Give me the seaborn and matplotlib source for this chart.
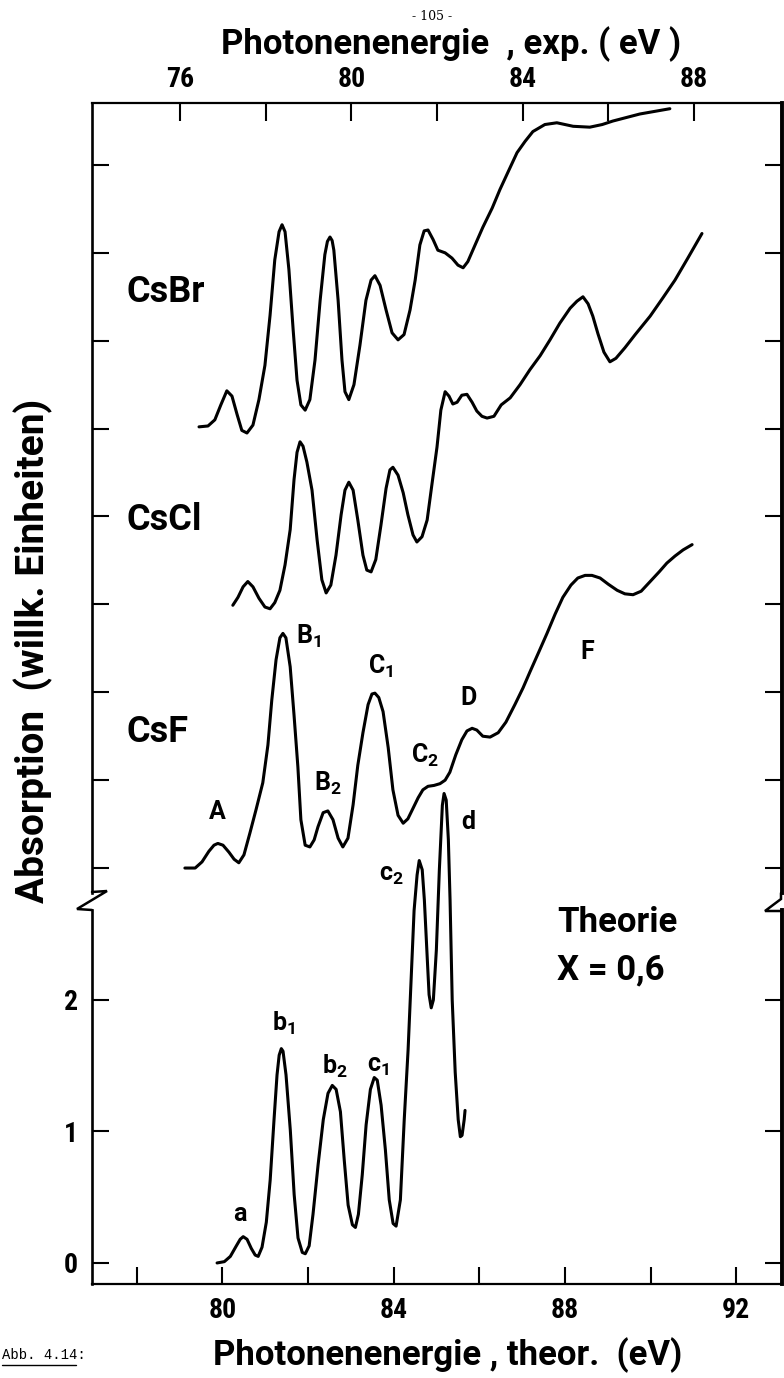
import matplotlib
matplotlib.use("Agg")
import matplotlib.pyplot as plt
from matplotlib.lines import Line2D
import seaborn as sns

# ---------------------------------------------------------------- spectra
# Measured absorption (experimental photon energy in eV, arbitrary units,
# curves stacked with vertical offsets)
csbr_energy = [76.44, 76.65, 76.81, 76.95, 77.09, 77.21, 77.33, 77.44, 77.56, 77.70,
               77.84, 77.98, 78.10, 78.21, 78.31, 78.38, 78.45, 78.54, 78.64, 78.73,
               78.82, 78.92, 79.03, 79.15, 79.27, 79.38, 79.44, 79.50, 79.55, 79.59,
               79.69, 79.78, 79.85, 79.94, 80.06, 80.20, 80.34, 80.46, 80.55, 80.67,
               80.81, 80.95, 81.09, 81.23, 81.37, 81.49, 81.60, 81.70, 81.79, 81.91,
               82.02, 82.19, 82.35, 82.49, 82.61, 82.72, 82.89, 83.07, 83.29, 83.47,
               83.66, 83.87, 84.06, 84.24, 84.52, 84.80, 85.18, 85.57, 85.86, 86.11,
               86.74, 87.44]
csbr_absorption = [5.02, 5.03, 5.10, 5.27, 5.43, 5.37, 5.16, 4.98, 4.95, 5.04,
                   5.33, 5.72, 6.29, 6.92, 7.24, 7.32, 7.24, 6.81, 6.12, 5.55,
                   5.27, 5.21, 5.33, 5.78, 6.46, 6.98, 7.13, 7.18, 7.14, 7.03,
                   6.46, 5.78, 5.42, 5.33, 5.50, 5.95, 6.46, 6.69, 6.74, 6.63,
                   6.35, 6.09, 6.01, 6.07, 6.35, 6.69, 7.09, 7.25, 7.26, 7.15,
                   7.03, 7.00, 6.94, 6.86, 6.83, 6.90, 7.09, 7.29, 7.51, 7.72,
                   7.92, 8.14, 8.27, 8.38, 8.46, 8.48, 8.44, 8.43, 8.46, 8.50,
                   8.58, 8.64]

cscl_energy = [77.23, 77.35, 77.47, 77.58, 77.70, 77.84, 77.98, 78.10, 78.21, 78.33,
               78.45, 78.57, 78.66, 78.73, 78.80, 78.87, 78.96, 79.08, 79.20, 79.31,
               79.41, 79.52, 79.64, 79.76, 79.85, 79.94, 80.04, 80.15, 80.27, 80.36,
               80.46, 80.57, 80.69, 80.81, 80.90, 80.97, 81.09, 81.21, 81.32, 81.44,
               81.53, 81.65, 81.77, 81.88, 82.00, 82.09, 82.19, 82.28, 82.37, 82.47,
               82.58, 82.70, 82.82, 82.93, 83.05, 83.17, 83.33, 83.50, 83.71, 83.94,
               84.17, 84.41, 84.64, 84.87, 85.11, 85.27, 85.41, 85.53, 85.64, 85.76,
               85.90, 86.04, 86.18, 86.39, 86.63, 86.98, 87.28, 87.56, 87.86, 88.19]
cscl_absorption = [2.99, 3.08, 3.20, 3.26, 3.20, 3.07, 2.97, 2.95, 3.02, 3.16,
                   3.45, 3.85, 4.42, 4.73, 4.85, 4.80, 4.62, 4.30, 3.73, 3.28,
                   3.13, 3.22, 3.56, 4.02, 4.30, 4.39, 4.30, 3.96, 3.56, 3.39,
                   3.37, 3.51, 3.90, 4.32, 4.53, 4.56, 4.47, 4.27, 4.02, 3.79,
                   3.71, 3.77, 3.96, 4.36, 4.79, 5.21, 5.42, 5.37, 5.28, 5.30,
                   5.38, 5.39, 5.30, 5.20, 5.14, 5.12, 5.14, 5.27, 5.35, 5.50,
                   5.67, 5.83, 6.01, 6.20, 6.37, 6.45, 6.50, 6.42, 6.28, 6.08,
                   5.87, 5.76, 5.80, 5.92, 6.07, 6.28, 6.49, 6.69, 6.94, 7.22]

csf_energy = [76.11, 76.35, 76.51, 76.67, 76.79, 76.88, 77.00, 77.14, 77.26, 77.37,
              77.49, 77.63, 77.77, 77.93, 78.05, 78.14, 78.24, 78.33, 78.40, 78.47,
              78.57, 78.66, 78.75, 78.82, 78.92, 79.03, 79.13, 79.22, 79.34, 79.45,
              79.57, 79.69, 79.80, 79.92, 80.04, 80.15, 80.27, 80.39, 80.48, 80.55,
              80.64, 80.74, 80.86, 80.97, 81.09, 81.21, 81.32, 81.44, 81.56, 81.67,
              81.79, 81.93, 82.07, 82.19, 82.30, 82.44, 82.58, 82.70, 82.82, 82.93,
              83.07, 83.24, 83.43, 83.61, 83.82, 84.01, 84.17, 84.38, 84.57, 84.76,
              84.94, 85.13, 85.29, 85.46, 85.62, 85.81, 86.00, 86.21, 86.39, 86.58,
              86.77, 86.98, 87.19, 87.37, 87.56, 87.75, 87.96]
csf_absorption = [0.00, 0.00, 0.07, 0.19, 0.26, 0.28, 0.26, 0.18, 0.10, 0.06,
                  0.15, 0.40, 0.66, 0.97, 1.40, 1.91, 2.37, 2.62, 2.67, 2.62,
                  2.29, 1.74, 1.15, 0.55, 0.26, 0.24, 0.32, 0.47, 0.63, 0.65,
                  0.55, 0.34, 0.24, 0.34, 0.72, 1.17, 1.54, 1.86, 1.98, 1.99,
                  1.94, 1.78, 1.37, 0.89, 0.60, 0.51, 0.56, 0.68, 0.80, 0.89,
                  0.93, 0.94, 0.96, 1.00, 1.09, 1.29, 1.46, 1.56, 1.59, 1.57,
                  1.50, 1.49, 1.54, 1.66, 1.86, 2.05, 2.23, 2.46, 2.67, 2.89,
                  3.08, 3.22, 3.30, 3.33, 3.33, 3.30, 3.23, 3.16, 3.12, 3.11,
                  3.15, 3.26, 3.37, 3.47, 3.55, 3.62, 3.68]

# Calculated spectrum, X = 0,6 (theoretical photon energy in eV)
theory_energy = [79.88, 80.05, 80.19, 80.33, 80.42, 80.49, 80.58, 80.68, 80.77, 80.84,
                 80.93, 81.03, 81.12, 81.21, 81.28, 81.33, 81.38, 81.42, 81.49, 81.59,
                 81.68, 81.77, 81.87, 81.94, 82.03, 82.12, 82.24, 82.36, 82.47, 82.57,
                 82.66, 82.76, 82.85, 82.94, 83.04, 83.11, 83.18, 83.27, 83.36, 83.46,
                 83.55, 83.62, 83.71, 83.81, 83.90, 83.99, 84.06, 84.16, 84.25, 84.34,
                 84.41, 84.48, 84.55, 84.60, 84.67, 84.72, 84.79, 84.83, 84.88, 84.93,
                 85.00, 85.07, 85.14, 85.18, 85.23, 85.28, 85.32, 85.37, 85.44, 85.51,
                 85.56, 85.60, 85.65, 85.67]
theory_absorption = [0.00, 0.01, 0.05, 0.13, 0.18, 0.20, 0.18, 0.11, 0.06, 0.05,
                     0.12, 0.31, 0.63, 1.09, 1.43, 1.58, 1.63, 1.61, 1.43, 1.01,
                     0.52, 0.19, 0.08, 0.07, 0.13, 0.37, 0.75, 1.09, 1.29, 1.35,
                     1.32, 1.15, 0.78, 0.44, 0.29, 0.27, 0.37, 0.67, 1.05, 1.32,
                     1.41, 1.39, 1.20, 0.86, 0.48, 0.30, 0.28, 0.48, 1.09, 1.62,
                     2.15, 2.68, 2.95, 3.06, 2.99, 2.76, 2.30, 2.04, 1.94, 2.00,
                     2.38, 2.99, 3.48, 3.57, 3.52, 3.22, 2.76, 2.00, 1.45, 1.09,
                     0.96, 0.97, 1.09, 1.16]

exp_major = [76, 80, 84, 88]
exp_minor = [78, 82, 86]
theor_major = [80, 84, 88, 92]
theor_minor = [78, 82, 86, 90]
offset_ticks = [0, 1, 2, 3, 4, 5, 6, 7, 8]
theory_ticks = [0, 1, 2]

samples = ["CsBr", "CsCl", "CsF"]

# ---------------------------------------------------------------- style
sns.set_theme(style="ticks")
plt.rcParams["font.family"] = ["Roboto", "DejaVu Sans"]
plt.rcParams["font.weight"] = "bold"
plt.rcParams["mathtext.default"] = "regular"
for key in ("text.color", "axes.labelcolor", "xtick.color", "ytick.color",
            "axes.edgecolor"):
    plt.rcParams[key] = "black"

NARROW = ["Roboto Condensed", "DejaVu Sans Condensed", "Roboto", "DejaVu Sans"]

W, H = 784, 1378
fig = plt.figure(figsize=(W / 100, H / 100), dpi=100)
fig.patch.set_facecolor("white")


def fx(px):
    return px / W


def fy(py):
    return 1 - py / H


LEFT, RIGHT = 92, 782
EXP_TOP, EXP_BOTTOM = 103, 893
TH_TOP, TH_BOTTOM = 910, 1284

ax_exp = fig.add_axes([fx(LEFT), fy(EXP_BOTTOM), fx(RIGHT) - fx(LEFT),
                       fy(EXP_TOP) - fy(EXP_BOTTOM)])
ax_th = fig.add_axes([fx(LEFT), fy(TH_BOTTOM), fx(RIGHT) - fx(LEFT),
                      fy(TH_TOP) - fy(TH_BOTTOM)])
for ax in (ax_exp, ax_th):
    ax.set_facecolor("none")
ax_th.set_zorder(3)

LW = 2.2
line_kw = dict(color="black", linewidth=LW, sort=False, estimator=None,
               solid_joinstyle="round", solid_capstyle="round")
for e, a in [(csbr_energy, csbr_absorption), (cscl_energy, cscl_absorption),
             (csf_energy, csf_absorption)]:
    sns.lineplot(x=e, y=a, ax=ax_exp, **line_kw)

sns.lineplot(x=theory_energy, y=theory_absorption, ax=ax_th, **line_kw)
ax_th.lines[-1].set_clip_on(False)

# ---------------------------------------------------------------- axes
ax_exp.set_xlim(73.94, 90.06)
ax_exp.set_ylim(-0.284, 8.705)
ax_th.set_xlim(76.96, 93.07)
ax_th.set_ylim(-0.160, 2.684)

for ax in (ax_exp, ax_th):
    ax.set_xlabel("")
    ax.set_ylabel("")
    ax.spines["left"].set_linewidth(1.9)
    ax.spines["right"].set_linewidth(2.8)
    ax.spines["top"].set_linewidth(1.6)
    ax.spines["bottom"].set_linewidth(1.6)
    for s in ax.spines.values():
        s.set_color("black")

ax_exp.spines["bottom"].set_visible(False)
ax_th.spines["top"].set_visible(False)

ax_exp.xaxis.set_ticks_position("top")
ax_exp.set_xticks(exp_major)
ax_exp.set_xticks(exp_minor, minor=True)
ax_exp.set_xticklabels([str(v) for v in exp_major])
ax_exp.tick_params(axis="x", which="both", direction="in", top=True, bottom=False,
                   labeltop=True, labelbottom=False, length=13, width=1.5,
                   pad=7, labelsize=20, colors="black")
ax_exp.set_yticks(offset_ticks)
ax_exp.set_yticklabels([])
ax_exp.tick_params(axis="y", which="both", direction="in", left=True, right=True,
                   labelleft=False, length=12, width=1.5, colors="black")

ax_th.set_xticks(theor_major)
ax_th.set_xticks(theor_minor, minor=True)
ax_th.set_xticklabels([str(v) for v in theor_major])
ax_th.tick_params(axis="x", which="both", direction="in", bottom=True, top=False,
                  length=12, width=1.5, pad=9, labelsize=20, colors="black")
ax_th.set_yticks(theory_ticks)
ax_th.set_yticklabels([str(v) for v in theory_ticks])
ax_th.tick_params(axis="y", which="both", direction="in", left=True, right=True,
                  labelleft=True, length=12, width=1.5, pad=10, labelsize=20,
                  colors="black")

for ax in (ax_exp, ax_th):
    for lab in ax.get_xticklabels() + ax.get_yticklabels():
        lab.set_family(NARROW)

# axis break marks on both vertical frame lines
brk = dict(color="black", linewidth=1.8, transform=fig.transFigure,
           solid_joinstyle="miter")
fig.add_artist(Line2D([fx(92), fx(107), fx(77), fx(92)],
                      [fy(892), fy(891), fy(909), fy(910)], **brk))
fig.add_artist(Line2D([fx(781), fx(781), fx(765), fx(781)],
                      [fy(893), fy(899), fy(911), fy(911)], **brk))

# ---------------------------------------------------------------- texts
fig.text(fx(432), fy(17), "- 105 -", fontsize=9, family="DejaVu Serif",
         weight="normal", ha="center", va="center")
fig.text(fx(451), fy(44), "Photonenenergie  , exp. ( eV )", fontsize=25,
         ha="center", va="center")
fig.text(fx(448), fy(1355), "Photonenenergie , theor.  (eV)", fontsize=25,
         ha="center", va="center")
fig.text(fx(33), fy(651), "Absorption  (willk. Einheiten)", fontsize=28,
         rotation=90, ha="center", va="center")

for name, ypx in zip(samples, [292, 520, 732]):
    fig.text(fx(127), fy(ypx), name, fontsize=26, ha="left", va="center")


def peak_label(xpx, ypx, text):
    fig.text(fx(xpx), fy(ypx), text, fontsize=18, ha="left", va="center")


peak_label(209, 812, "A")
peak_label(296, 636, "B$_1$")
peak_label(314, 783, "B$_2$")
peak_label(368, 666, "C$_1$")
peak_label(411, 755, "C$_2$")
peak_label(460, 698, "D")
peak_label(580, 652, "F")
peak_label(233, 1214, "a")
peak_label(272, 1023, "b$_1$")
peak_label(322, 1066, "b$_2$")
peak_label(367, 1066, "c$_1$")
peak_label(379, 875, "c$_2$")
peak_label(461, 822, "d")

fig.text(fx(557), fy(922), "Theorie", fontsize=25, ha="left", va="center")
fig.text(fx(557), fy(970), "X = 0,6", fontsize=25, ha="left", va="center")

fig.text(fx(2), fy(1355), "Abb. 4.14:", fontsize=10, family="Liberation Mono",
         weight="normal", ha="left", va="center")
fig.add_artist(Line2D([fx(2), fx(76)], [fy(1365), fy(1365)], color="black",
                      linewidth=1.0, transform=fig.transFigure))

fig.savefig("out.png", dpi=100, facecolor="white")
